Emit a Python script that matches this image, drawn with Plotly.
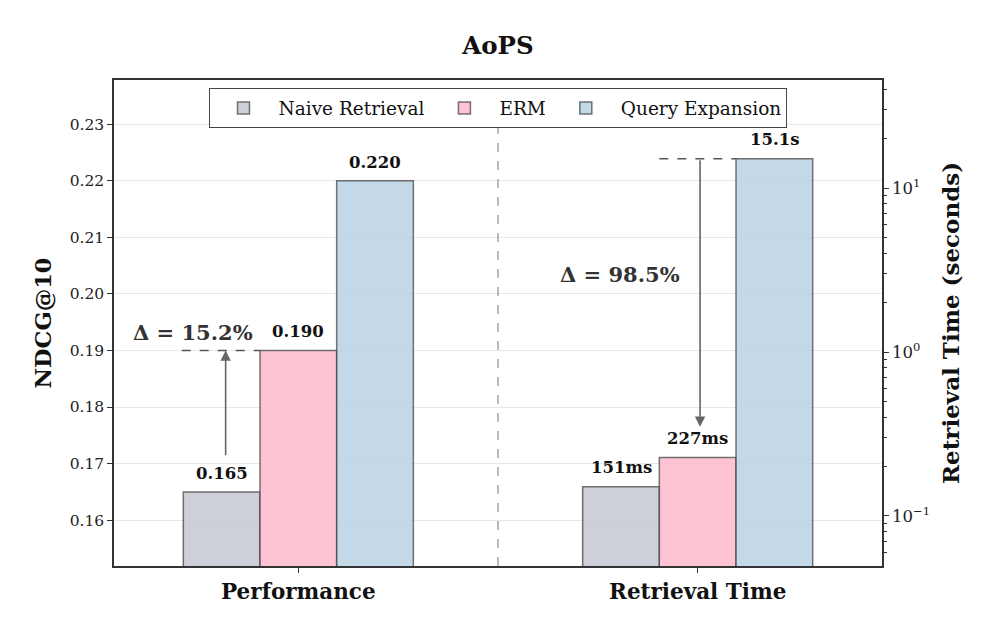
import math
import plotly.graph_objects as go

# ---- data ----
methods = ["Naive Retrieval", "ERM", "Query Expansion"]
categories = ["Performance", "Retrieval Time"]
ndcg = [0.165, 0.190, 0.220]
time_s = [0.151, 0.227, 15.1]
time_labels = ["151ms", "227ms", "15.1s"]
ndcg_labels = ["0.165", "0.190", "0.220"]
time_tickvals = [0.1, 1, 10]
time_ticktext = ["10<sup>\u22121</sup>", "10<sup>0</sup>", "10<sup>1</sup>"]
time_minor_ticks = [0.06, 0.07, 0.08, 0.09, 0.2, 0.3, 0.4, 0.5, 0.6, 0.7, 0.8, 0.9,
                    2, 3, 4, 5, 6, 7, 8, 9, 20, 30, 40]

# ---- style ----
FONT = "DejaVu Serif"
fill = ["rgba(192,196,206,0.8)", "rgba(254,181,201,0.8)", "rgba(181,207,225,0.8)"]
edge = "rgba(70,70,70,0.75)"
bar_w = 0.192
offsets = [-bar_w, 0.0, bar_w]
cat_pos = [0, 1]

W, H = 988, 627

fig = go.Figure()

for i, m in enumerate(methods):
    fig.add_trace(go.Bar(
        x=[cat_pos[0] + offsets[i]], y=[ndcg[i]], width=bar_w, name=m,
        marker=dict(color=fill[i], line=dict(color=edge, width=1.5)),
        legendgroup=m, showlegend=True, yaxis="y", hoverinfo="skip"))
    fig.add_trace(go.Bar(
        x=[cat_pos[1] + offsets[i]], y=[time_s[i]], width=bar_w, name=m,
        marker=dict(color=fill[i], line=dict(color=edge, width=1.5)),
        legendgroup=m, showlegend=False, yaxis="y2", hoverinfo="skip"))

annotations = []
# value labels
for i in range(3):
    annotations.append(dict(
        x=cat_pos[0] + offsets[i], y=ndcg[i], xref="x", yref="y",
        text="<b>%s</b>" % ndcg_labels[i], showarrow=False,
        yanchor="bottom", yshift=7, font=dict(family=FONT, size=16.5, color="#111")))
    annotations.append(dict(
        x=cat_pos[1] + offsets[i], y=math.log10(time_s[i]), xref="x", yref="y2",
        text="<b>%s</b>" % time_labels[i], showarrow=False,
        yanchor="bottom", yshift=8, font=dict(family=FONT, size=16.5, color="#111")))

# delta values
perf_gain = (ndcg[1] - ndcg[0]) / ndcg[0] * 100
time_red = (time_s[2] - time_s[1]) / time_s[2] * 100

# dashed reference lines
fig.add_trace(go.Scatter(
    x=[cat_pos[0] - 0.292, cat_pos[0] + offsets[1] - bar_w / 2], y=[ndcg[1], ndcg[1]],
    mode="lines", line=dict(color="#555", width=1.6, dash="dash"),
    showlegend=False, hoverinfo="skip", yaxis="y"))
fig.add_trace(go.Scatter(
    x=[cat_pos[1] + offsets[1] - bar_w / 2, cat_pos[1] + offsets[2] - bar_w / 2], y=[time_s[2], time_s[2]],
    mode="lines", line=dict(color="#555", width=1.6, dash="dash"),
    showlegend=False, hoverinfo="skip", yaxis="y2"))

# arrows
annotations.append(dict(
    x=cat_pos[0] - 0.182, y=ndcg[1], ax=cat_pos[0] - 0.182, ay=0.1712,
    xref="x", yref="y", axref="x", ayref="y", text="", showarrow=True,
    arrowhead=2, arrowsize=1.3, arrowwidth=1.6, arrowcolor="#666", standoff=0))
annotations.append(dict(
    x=cat_pos[1] + 0.006, y=math.log10(0.35), ax=cat_pos[1] + 0.006, ay=math.log10(time_s[2]),
    xref="x", yref="y2", axref="x", ayref="y2", text="", showarrow=True,
    arrowhead=2, arrowsize=1.3, arrowwidth=1.6, arrowcolor="#666", standoff=0))

annotations.append(dict(
    x=cat_pos[0] - 0.264, y=0.1931, xref="x", yref="y",
    text="<b>\u0394 = %.1f%%</b>" % perf_gain, showarrow=False,
    font=dict(family=FONT, size=21, color="#333")))
annotations.append(dict(
    x=cat_pos[1] - 0.195, y=math.log10(2.95), xref="x", yref="y2",
    text="<b>\u0394 = %.1f%%</b>" % time_red, showarrow=False,
    font=dict(family=FONT, size=21, color="#333")))

fig.update_layout(
    width=W, height=H,
    margin=dict(l=106, r=114, t=72, b=69),
    paper_bgcolor="white", plot_bgcolor="white",
    font=dict(family=FONT, color="#111"),
    barmode="overlay",
    title=dict(text="<b>AoPS</b>", x=(106 + (W - 114)) / 2 / W, xanchor="center",
               y=1 - 37 / H, yanchor="middle",
               font=dict(family=FONT, size=24.5, color="#111")),
    xaxis=dict(range=[-0.4616, 1.4616], tickvals=cat_pos,
               ticktext=["<b>%s</b>" % c for c in categories],
               tickfont=dict(family=FONT, size=21.5, color="#111"),
               showline=True, mirror=True, linecolor="#333", linewidth=1.5,
               ticks="outside", ticklen=5, tickcolor="#333", showgrid=False, zeroline=False),
    yaxis=dict(range=[0.1519, 0.2378], dtick=0.01, tickformat=".2f",
               title=dict(text="<b>NDCG@10</b>", font=dict(family=FONT, size=22.5, color="#111"), standoff=12),
               tickfont=dict(family=FONT, size=15.5, color="#222"),
               showline=True, linecolor="#333", linewidth=1.5,
               ticks="outside", ticklen=5, tickcolor="#333",
               showgrid=True, gridcolor="rgba(0,0,0,0.09)", gridwidth=1, zeroline=False),
    yaxis2=dict(type="log", range=[-1.305, 1.659], overlaying="y", side="right",
                tickvals=time_tickvals, ticktext=time_ticktext,
                title=dict(text="<b>Retrieval Time (seconds)</b>", font=dict(family=FONT, size=23, color="#111"), standoff=14),
                tickfont=dict(family=FONT, size=16.5, color="#222"),
                showline=True, linecolor="#333", linewidth=1.5,
                ticks="outside", ticklen=5, tickcolor="#333",
                minor=dict(tickvals=time_minor_ticks, ticks="outside", ticklen=3,
                           tickcolor="#333", showgrid=False),
                showgrid=False, zeroline=False),
    legend=dict(orientation="h", x=0.5, xanchor="center", y=0.983, yanchor="top",
                bordercolor="#444", borderwidth=1.2, bgcolor="white",
                font=dict(family=FONT, size=18.5, color="#111"), itemwidth=60),
    shapes=[dict(type="line", x0=0.5, x1=0.5, xref="x", y0=0, y1=1, yref="paper",
                 line=dict(color="#bbbbbb", width=2, dash="dash"), layer="below")],
    annotations=annotations,
)

fig.write_html("out.html")
